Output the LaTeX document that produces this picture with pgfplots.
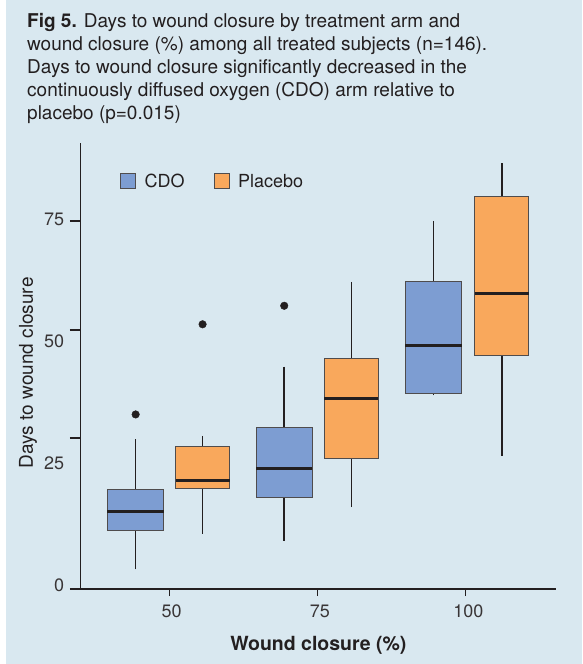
\documentclass[border=0pt]{standalone}
\usepackage{fontspec}
\setmainfont{TeX Gyre Heros}
\usepackage{pgfplots}
\pgfplotsset{compat=1.18}
\usepgfplotslibrary{statistics}
\definecolor{bg}{RGB}{217,232,240}
\definecolor{cdo}{RGB}{125,157,210}
\definecolor{plc}{RGB}{249,168,92}
\definecolor{ink}{RGB}{35,31,32}

\begin{document}
\begin{tikzpicture}[x=1pt,y=1pt]
  \fill[white] (-80.7,-75) rectangle (501.3,589);
  \fill[bg] (-74.7,-75) rectangle (501.3,589);
  \node[anchor=north west, inner sep=0, align=left, text=ink,
        font=\fontsize{19}{23}\selectfont] at (-53.7,576.3)
    {\textbf{Fig 5.} Days to wound closure by treatment arm and\\
     wound closure (\%) among all treated subjects (n=146).\\
     Days to wound closure significantly decreased in the\\
     continuously diffused oxygen (CDO) arm relative to\\
     placebo (p=0.015)};
  \begin{axis}[
      at={(0,0)}, anchor=south west,
      scale only axis,
      width=475.3pt, height=445.7pt,
      xmin=35.1, xmax=115.2,
      ymin=-0.82, ymax=90.64,
      axis x line=bottom, axis y line=left,
      axis line style={-, line width=1.2pt, ink},
      tick style={line width=1.2pt, ink},
      tick align=outside,
      major tick length=7pt,
      minor tick length=10.7pt,
      xtick={50,75,100},
      ytick={0,25,50,75},
      minor ytick={-0.82,30.17,52.33,74.70},
      every major y tick/.append style={draw=none},
      /pgf/number format/assume math mode=true,
      tick label style={font=\fontsize{18}{20}\selectfont, text=ink!90},
      xticklabel style={xshift=2.5pt, yshift=-5pt},
      yticklabel style={xshift=-6pt},
      xlabel={\textbf{Wound closure (\%)}},
      xlabel style={at={(axis description cs:0.5,-0.127)}, anchor=center,
                    font=\fontsize{19.5}{22}\selectfont, text=ink},
      ylabel={Days to wound closure},
      ylabel style={at={(axis description cs:-0.1109,0.485)}, anchor=center,
                    font=\fontsize{19}{22}\selectfont, text=ink},
      boxplot/draw direction=y,
      boxplot/whisker extend=0,
      boxplot/every whisker/.style={ink, line width=1.5pt},
      boxplot/every box/.style={draw=ink!80, line width=1pt},
      boxplot/every median/.style={ink, line width=3pt},
      legend style={at={(axis description cs:0.076,0.941)}, anchor=north west,
                    draw=none, fill=none, legend columns=2,
                    font=\fontsize{18}{20}\selectfont, text=ink,
                    /tikz/every odd column/.append style={column sep=6.5pt},
                    /tikz/every even column/.append style={column sep=27pt}},
      legend image code/.code={\draw[#1, line width=1pt] (0pt,-7.5pt) rectangle (15pt,7.5pt);},
    ]
    % CDO
    \addplot[boxplot prepared={draw position=44.36, box extend=9.5,
        lower whisker=3.2, lower quartile=11.1, median=15.0,
        upper quartile=19.6, upper whisker=29.9},
      fill=cdo, draw=ink, forget plot, mark=*, mark size=3.8pt,
      mark options={fill=ink, draw=ink}] coordinates {(0,35.0)};
    \addplot[boxplot prepared={draw position=69.4, box extend=9.5,
        lower whisker=9.0, lower quartile=17.9, median=24.0,
        upper quartile=32.4, upper whisker=44.8},
      fill=cdo, draw=ink, forget plot, mark=*, mark size=3.8pt,
      mark options={fill=ink, draw=ink}] coordinates {(0,57.3)};
    \addplot[boxplot prepared={draw position=94.56, box extend=9.5,
        lower whisker=38.9, lower quartile=39.3, median=49.1,
        upper quartile=62.3, upper whisker=74.7},
      fill=cdo, draw=ink, forget plot] coordinates {};
    % Placebo
    \addplot[boxplot prepared={draw position=55.64, box extend=9.1,
        lower whisker=10.5, lower quartile=19.9, median=21.5,
        upper quartile=28.4, upper whisker=30.6},
      fill=plc, draw=ink, forget plot, mark=*, mark size=3.8pt,
      mark options={fill=ink, draw=ink}] coordinates {(0,53.5)};
    \addplot[boxplot prepared={draw position=80.7, box extend=9.1,
        lower whisker=16.0, lower quartile=25.9, median=38.2,
        upper quartile=46.5, upper whisker=62.2},
      fill=plc, draw=ink, forget plot] coordinates {};
    \addplot[boxplot prepared={draw position=106.07, box extend=9.1,
        lower whisker=26.5, lower quartile=47.1, median=59.8,
        upper quartile=79.8, upper whisker=86.5},
      fill=plc, draw=ink, forget plot] coordinates {};
    \addlegendimage{fill=cdo, draw=ink!80}
    \addlegendentry{CDO}
    \addlegendimage{fill=plc, draw=ink!80}
    \addlegendentry{Placebo}
  \end{axis}
  \pgfresetboundingbox
  \useasboundingbox (-80.7,-75) rectangle (501.3,589);
\end{tikzpicture}
\end{document}
